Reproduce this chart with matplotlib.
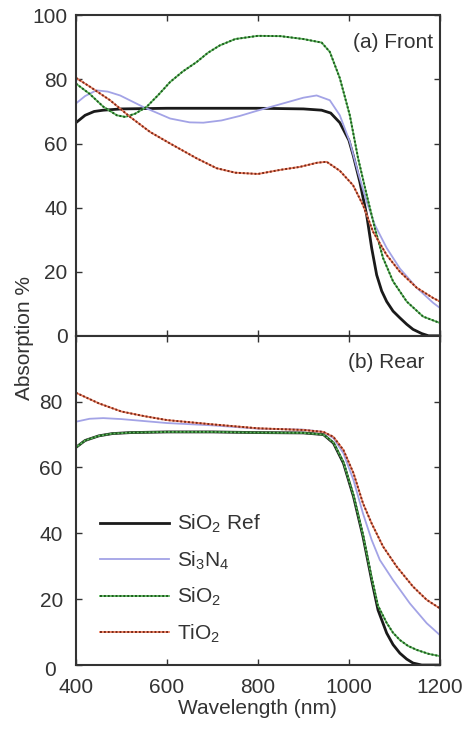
import matplotlib
matplotlib.use("Agg")
import matplotlib.pyplot as plt
from matplotlib.legend_handler import HandlerTuple
from matplotlib.transforms import ScaledTranslation

plt.rcParams['font.family'] = ['Liberation Sans', 'DejaVu Sans']
plt.rcParams['mathtext.fontset'] = 'custom'
plt.rcParams['mathtext.rm'] = 'Liberation Sans'
plt.rcParams['mathtext.it'] = 'Liberation Sans'

# (a) Front side
front_ref_x = [400, 420, 440, 460, 500, 600, 700, 800, 900, 940, 960, 980, 1000, 1010, 1024,
               1039, 1050, 1061, 1072, 1083, 1097, 1112, 1127, 1141, 1160, 1175, 1200]
front_ref_y = [66.5, 68.8, 70.0, 70.4, 70.8, 71, 71, 71, 70.8, 70.4, 69.5, 66.5, 61, 56, 48,
               37.7, 27.4, 19, 14, 10.7, 7.7, 5.6, 3.6, 2, 0.7, 0, 0]

front_sin_x = [400, 420, 445, 470, 497, 548, 607, 650, 680, 720, 760, 800, 850, 900, 929,
               958, 980, 1002, 1020, 1039, 1057, 1083, 1112, 1149, 1185, 1200]
front_sin_y = [72.5, 74.8, 76.6, 76.2, 75, 71.4, 67.8, 66.6, 66.5, 67.2, 68.6, 70.3, 72.3, 74.3, 75,
               73.5, 68.8, 60.5, 51, 41.8, 34.6, 27.4, 21, 15, 10.3, 8.7]

front_sio_x = [400, 430, 460, 490, 508, 530, 555, 580, 607, 635, 665, 690, 716, 750, 800,
               850, 900, 940, 958, 980, 1002, 1020, 1039, 1057, 1075, 1097, 1127, 1163, 1200]
front_sio_y = [78.7, 75.5, 71.5, 68.8, 68.3, 69.3, 71.4, 75, 79.2, 82.5, 85.4, 88.3, 90.6, 92.6, 93.6,
               93.5, 92.6, 91.5, 88.6, 80.4, 68.8, 55.5, 44, 33.6, 24.3, 17, 10.7, 6, 4]

front_tio_x = [400, 431, 475, 519, 563, 607, 665, 709, 750, 800, 850, 892, 930, 951,
               980, 1009, 1031, 1053, 1083, 1112, 1149, 1185, 1200]
front_tio_y = [80.5, 77.7, 73.5, 68.3, 63.6, 60, 55.4, 52.3, 50.9, 50.5, 51.8, 52.7, 54, 54.3,
               51.5, 47, 40.8, 32.5, 25.2, 20, 15, 11.8, 10.7]

# (b) Rear side
rear_ref_x = [400, 420, 450, 480, 520, 600, 700, 800, 900, 944, 966, 988, 1010, 1031, 1050,
              1064, 1083, 1097, 1112, 1127, 1141, 1160, 1200]
rear_ref_y = [66.1, 68.2, 69.6, 70.3, 70.6, 70.8, 70.8, 70.6, 70.5, 70, 67.4, 61.3, 51.2, 39, 25.8,
              16.7, 9.7, 6.2, 3.6, 1.8, 0.6, 0, 0]

rear_sin_x = [400, 430, 460, 500, 600, 700, 800, 900, 944, 966, 988, 1010, 1031, 1050,
              1068, 1097, 1134, 1171, 1200]
rear_sin_y = [73.9, 74.8, 75, 74.7, 73.5, 72.8, 71.8, 71.5, 70.8, 68.9, 64.3, 56.2, 46, 38,
              31.9, 25.8, 18.7, 12.7, 9.1]

rear_sio_x = [400, 420, 450, 480, 520, 600, 700, 800, 900, 944, 966, 988, 1010, 1031, 1050,
              1064, 1083, 1097, 1112, 1130, 1149, 1175, 1200]
rear_sio_y = [66.1, 68.2, 69.6, 70.3, 70.6, 70.8, 70.8, 70.6, 70.5, 70, 67.6, 61.6, 51.6, 39.5, 26.5,
              18, 12.8, 9.8, 7.6, 5.8, 4.6, 3.4, 2.7]

rear_tio_x = [400, 450, 500, 550, 600, 700, 800, 900, 944, 966, 988, 1010, 1031, 1050,
              1075, 1105, 1141, 1171, 1200]
rear_tio_y = [82.7, 79.5, 77, 75.6, 74.4, 73.1, 71.9, 71.4, 70.8, 69.3, 65.3, 58.3, 49.1, 43,
              36, 29.9, 23.8, 19.8, 17.2]

labels = [r'SiO$_\mathrm{2}$ Ref', r'Si$_\mathrm{3}$N$_\mathrm{4}$', r'SiO$_\mathrm{2}$', r'TiO$_\mathrm{2}$']

fig = plt.figure(figsize=(4.66, 7.30), dpi=100)
ax1 = fig.add_axes([0.163, 0.540, 0.781, 0.439])
ax2 = fig.add_axes([0.163, 0.089, 0.781, 0.451])


def draw(ax, series):
    (rx, ry), (nx, ny), (sx, sy), (tx, ty) = series
    h1, = ax.plot(rx, ry, color='#1a1a1a', lw=2.0)
    h2, = ax.plot(nx, ny, color='#a3a3e6', lw=1.3)
    b3, = ax.plot(sx, sy, color='#5cb85c', lw=1.3)
    d3, = ax.plot(sx, sy, color='#1f5a1f', lw=1.4, ls=(0, (1, 1)))
    b4, = ax.plot(tx, ty, color='#f08060', lw=1.3)
    d4, = ax.plot(tx, ty, color='#7a2a1a', lw=1.4, ls=(0, (1, 1)))
    ax.set_xlim(400, 1200)
    ax.set_ylim(0, 100)
    ax.set_xticks([400, 600, 800, 1000, 1200])
    ax.tick_params(direction='in', top=True, right=True, length=4, width=1,
                   labelsize=15, colors='#333333', pad=6)
    for s in ax.spines.values():
        s.set_linewidth(1.5)
        s.set_color('#333333')
    return [h1, h2, (b3, d3), (b4, d4)]


draw(ax1, [(front_ref_x, front_ref_y), (front_sin_x, front_sin_y),
           (front_sio_x, front_sio_y), (front_tio_x, front_tio_y)])
ax1.set_yticks([0, 20, 40, 60, 80, 100])
ax1.tick_params(labelbottom=False)
ax1.text(0.98, 0.916, '(a) Front', transform=ax1.transAxes, ha='right', va='center',
         fontsize=15, color='#333333')

hs = draw(ax2, [(rear_ref_x, rear_ref_y), (rear_sin_x, rear_sin_y),
                (rear_sio_x, rear_sio_y), (rear_tio_x, rear_tio_y)])
ax2.set_yticks([0, 20, 40, 60, 80])
ax2.tick_params(axis='y', pad=9.5)
ax2.tick_params(axis='x', pad=9)
# the bottom "0" sits a little lower-left in the original
lab0 = ax2.get_yticklabels()[0]
lab0.set_transform(lab0.get_transform() + ScaledTranslation(-5 / 72, -2.5 / 72, fig.dpi_scale_trans))
ax2.text(0.957, 0.918, '(b) Rear', transform=ax2.transAxes, ha='right', va='center',
         fontsize=15, color='#333333')
ax2.set_xlabel('Wavelength (nm)', fontsize=15, color='#333333', labelpad=2)

ax2.legend(hs, labels, loc='lower left', bbox_to_anchor=(0.015, 0.005), frameon=False,
           fontsize=15, handlelength=3.3, handletextpad=0.4, labelspacing=0.68,
           handler_map={tuple: HandlerTuple(ndivide=1)}, labelcolor='#333333')

fig.text(0.052, 0.537, 'Absorption %', rotation=90, ha='center', va='center',
         fontsize=15, color='#333333')

fig.savefig('out.png', dpi=100)
